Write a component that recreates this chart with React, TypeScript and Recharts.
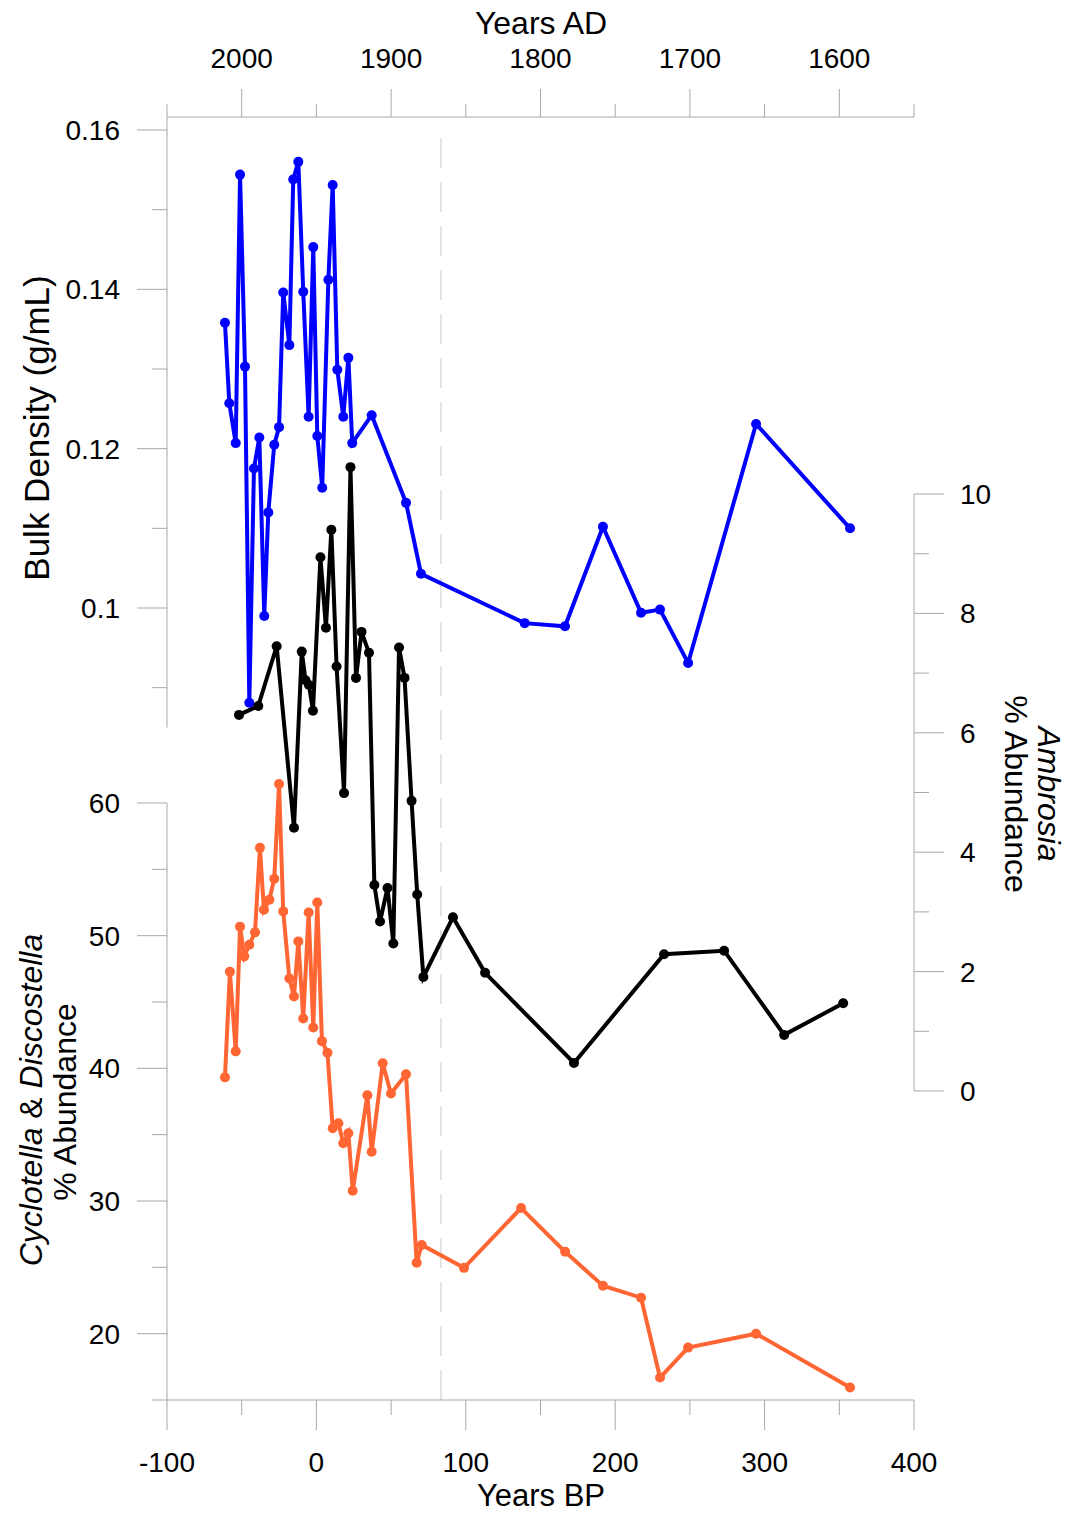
import { LineChart, Line, XAxis, YAxis, ReferenceLine } from "recharts";

// Years BP for each series
const bulkYearsBP = [
  -61.2, -58.3, -54.0, -51.1, -47.8, -44.9, -41.8, -38.2, -34.9, -32.2, -28.2, -25.0, -22.2,
  -18.1, -15.5, -12.1, -8.8, -5.2, -2.1, 0.6, 3.9, 8.0, 10.9, 14.0, 18.0, 21.4, 24.0, 37.0,
  60.0, 70.0, 139.4, 166.4, 191.8, 217.3, 230.0, 248.8, 294.3, 357.2,
];
const bulkDensity = [
  0.1358, 0.1257, 0.1207, 0.1544, 0.1303, 0.0881, 0.1175, 0.1214, 0.099, 0.112, 0.1205, 0.1227,
  0.1396, 0.133, 0.1538, 0.156, 0.1397, 0.124, 0.1453, 0.1216, 0.1151, 0.1412, 0.1531, 0.1299,
  0.124, 0.1314, 0.1207, 0.1242, 0.1132, 0.1043, 0.0981, 0.0977, 0.1102, 0.0994, 0.0998, 0.0931,
  0.1231, 0.11,
];

const ambrosiaYearsBP = [
  -51.8, -38.9, -26.6, -15.0, -9.8, -7.3, -5.0, -2.3, 2.7, 6.4, 10.0, 13.5, 18.5, 22.8, 26.5,
  30.2, 35.2, 38.8, 42.6, 47.6, 51.5, 55.3, 59.0, 63.7, 67.5, 71.6, 91.4, 112.9, 172.4, 232.7,
  272.9, 313.1, 352.6,
];
const ambrosiaPct = [
  6.3, 6.45, 7.45, 4.41, 7.36, 6.88, 6.8, 6.37, 8.94, 7.76, 9.4, 7.11, 4.99, 10.45, 6.92, 7.69,
  7.34, 3.45, 2.84, 3.4, 2.47, 7.43, 6.92, 4.86, 3.29, 1.91, 2.91, 1.98, 0.47, 2.29, 2.35, 0.94,
  1.47,
];

const cycloYearsBP = [
  -61.2, -57.9, -54.0, -51.1, -48.3, -44.9, -41.1, -37.8, -35.1, -31.5, -28.2, -25.0, -22.2,
  -18.1, -15.0, -12.1, -8.8, -5.2, -2.1, 0.6, 3.7, 7.4, 10.9, 14.7, 18.0, 21.4, 24.3, 34.1, 37.0,
  44.4, 49.9, 60.0, 67.1, 70.5, 98.8, 137.0, 166.5, 191.8, 217.3, 230.0, 248.8, 294.3, 357.2,
];
const cycloPct = [
  39.32, 47.29, 41.28, 50.68, 48.44, 49.32, 50.25, 56.62, 51.95, 52.71, 54.29, 61.43, 51.83, 46.77,
  45.41, 49.57, 43.76, 51.75, 43.08, 52.5, 42.05, 41.17, 35.49, 35.86, 34.36, 35.11, 30.77, 37.97,
  33.71, 40.38, 38.1, 39.55, 25.34, 26.69, 24.96, 29.47, 26.17, 23.61, 22.71, 16.69, 18.95, 20.0,
  15.94,
];

// tick values
const bpMajorTicks = [-100, 0, 100, 200, 300, 400];
const bpMinorTicks = [-50, 50, 150, 250, 350];
const adMajorTicks = [2000, 1900, 1800, 1700, 1600];
const adMinorTicks = [2050, 1950, 1850, 1750, 1650, 1550];
const bdMajorTicks = [0.16, 0.14, 0.12, 0.1];
const bdMinorTicks = [0.15, 0.13, 0.11, 0.09];
const cycMajorTicks = [60, 50, 40, 30, 20];
const cycMinorTicks = [55, 45, 35, 25, 15];
const ambMajorTicks = [0, 2, 4, 6, 8, 10];
const ambMinorTicks = [1, 3, 5, 7, 9];

const bulkData = bulkYearsBP.map((bp, i) => ({ bp, v: bulkDensity[i] }));
const ambrosiaData = ambrosiaYearsBP.map((bp, i) => ({ bp, v: ambrosiaPct[i] }));
const cycloData = cycloYearsBP.map((bp, i) => ({ bp, v: cycloPct[i] }));

const W = 1084;
const H = 1513;
const PLOT_L = 167;
const PLOT_R = 914;
const PLOT_T = 117;
const PLOT_B = 1400;

const BD_DOMAIN = [0.000586, 0.161632];
const AMB_DOMAIN = [-5.176, 16.315];
const CYC_DOMAIN = [15, 111.71];

const FONT = "'Liberation Sans', Arial, Helvetica, sans-serif";
const AXIS = "#a8a8a8";
const BLUE = "#0000ff";
const BLACK = "#000000";
const ORANGE = "#ff6633";

const fmtBd = (v: number) => String(Number(v.toFixed(2)));

function leftTick(majors: number[], fmt: (v: number) => string) {
  return (props: any) => {
    const { y, payload } = props;
    const major = majors.includes(payload.value);
    const len = major ? 30 : 15;
    return (
      <g>
        <line x1={PLOT_L - len} x2={PLOT_L} y1={y} y2={y} stroke={AXIS} strokeWidth={1} />
        {major && (
          <text x={PLOT_L - 47} y={y + 10} textAnchor="end" fontSize={28} fontFamily={FONT} fill="#000">
            {fmt(payload.value)}
          </text>
        )}
      </g>
    );
  };
}

function rightTick(props: any) {
  const { y, payload } = props;
  const major = ambMajorTicks.includes(payload.value);
  const len = major ? 30 : 15;
  return (
    <g>
      <line x1={PLOT_R} x2={PLOT_R + len} y1={y} y2={y} stroke={AXIS} strokeWidth={1} />
      {major && (
        <text x={960} y={y + 10} textAnchor="start" fontSize={28} fontFamily={FONT} fill="#000">
          {payload.value}
        </text>
      )}
    </g>
  );
}

function bottomTick(props: any) {
  const { x, payload } = props;
  const major = bpMajorTicks.includes(payload.value);
  const len = major ? 30 : 15;
  return (
    <g>
      <line x1={x} x2={x} y1={PLOT_B} y2={PLOT_B + len} stroke={AXIS} strokeWidth={1} />
      {major && (
        <text x={x} y={1472} textAnchor="middle" fontSize={28} fontFamily={FONT} fill="#000">
          {payload.value}
        </text>
      )}
    </g>
  );
}

function topTick(props: any) {
  const { x, payload } = props;
  const ad = 1950 - payload.value;
  const major = adMajorTicks.includes(ad);
  const len = major ? 28 : 13;
  return (
    <g>
      <line x1={x} x2={x} y1={PLOT_T - len} y2={PLOT_T} stroke={AXIS} strokeWidth={1} />
      {major && (
        <text x={x} y={68} textAnchor="middle" fontSize={28} fontFamily={FONT} fill="#000">
          {ad}
        </text>
      )}
    </g>
  );
}

export default function App() {
  return (
    <div style={{ position: "absolute", left: 0, top: 0, width: W, height: H, background: "#fff" }}>
      <LineChart
        width={W}
        height={H}
        margin={{ top: PLOT_T - 60, bottom: H - PLOT_B - 60, left: PLOT_L - 120, right: W - PLOT_R - 60 }}
      >
        <XAxis
          xAxisId="bp"
          dataKey="bp"
          type="number"
          domain={[-100, 400]}
          allowDataOverflow
          ticks={[...bpMajorTicks, ...bpMinorTicks]}
          interval={0}
          height={60}
          tickLine={false}
          axisLine={{ stroke: AXIS }}
          tick={bottomTick}
        />
        <XAxis
          xAxisId="top"
          orientation="top"
          dataKey="bp"
          type="number"
          domain={[-100, 400]}
          allowDataOverflow
          ticks={[...adMajorTicks, ...adMinorTicks].map((a) => 1950 - a)}
          interval={0}
          height={60}
          tickLine={false}
          axisLine={{ stroke: AXIS }}
          tick={topTick}
        />
        <YAxis
          yAxisId="bd"
          type="number"
          domain={BD_DOMAIN}
          allowDataOverflow
          ticks={[...bdMajorTicks, ...bdMinorTicks]}
          interval={0}
          width={60}
          tickLine={false}
          axisLine={false}
          tick={leftTick(bdMajorTicks, fmtBd)}
        />
        <YAxis
          yAxisId="cyc"
          type="number"
          domain={CYC_DOMAIN}
          allowDataOverflow
          ticks={[...cycMajorTicks, ...cycMinorTicks]}
          interval={0}
          width={60}
          tickLine={false}
          axisLine={false}
          tick={leftTick(cycMajorTicks, (v) => String(v))}
        />
        <YAxis
          yAxisId="amb"
          orientation="right"
          type="number"
          domain={AMB_DOMAIN}
          allowDataOverflow
          ticks={[...ambMajorTicks, ...ambMinorTicks]}
          interval={0}
          width={60}
          tickLine={false}
          axisLine={false}
          tick={rightTick}
        />

        <ReferenceLine
          xAxisId="bp"
          yAxisId="bd"
          ifOverflow="visible"
          segment={[{ x: -100, y: 0.085 }, { x: -100, y: BD_DOMAIN[1] }]}
          stroke={AXIS}
        />
        <ReferenceLine
          xAxisId="bp"
          yAxisId="cyc"
          ifOverflow="visible"
          segment={[{ x: -100, y: CYC_DOMAIN[0] }, { x: -100, y: 60 }]}
          stroke={AXIS}
        />
        <ReferenceLine
          xAxisId="bp"
          yAxisId="amb"
          ifOverflow="visible"
          segment={[{ x: 400, y: 0 }, { x: 400, y: 10 }]}
          stroke={AXIS}
        />
        <ReferenceLine
          xAxisId="bp"
          yAxisId="bd"
          ifOverflow="visible"
          segment={[{ x: 83.4, y: BD_DOMAIN[0] }, { x: 83.4, y: 0.16 }]}
          stroke="#c8c8c8"
          strokeDasharray="30 14"
        />

        <Line
          data={bulkData}
          xAxisId="bp"
          yAxisId="bd"
          dataKey="v"
          stroke={BLUE}
          strokeWidth={4}
          dot={{ r: 5, fill: BLUE, stroke: "none" }}
          isAnimationActive={false}
        />
        <Line
          data={ambrosiaData}
          xAxisId="bp"
          yAxisId="amb"
          dataKey="v"
          stroke={BLACK}
          strokeWidth={4}
          dot={{ r: 5, fill: BLACK, stroke: "none" }}
          isAnimationActive={false}
        />
        <Line
          data={cycloData}
          xAxisId="bp"
          yAxisId="cyc"
          dataKey="v"
          stroke={ORANGE}
          strokeWidth={4}
          dot={{ r: 5, fill: ORANGE, stroke: "none" }}
          isAnimationActive={false}
        />
      </LineChart>

      <svg
        width={W}
        height={H}
        style={{ position: "absolute", left: 0, top: 0, pointerEvents: "none" }}
        fontFamily={FONT}
      >
        <text x={541} y={34} textAnchor="middle" fontSize={32}>Years AD</text>
        <text x={541} y={1506} textAnchor="middle" fontSize={31}>Years BP</text>
        <text x={49} y={428} textAnchor="middle" fontSize={35} transform="rotate(-90 49 428)">
          Bulk Density (g/mL)
        </text>
        <text x={42} y={1100} textAnchor="middle" fontSize={32} transform="rotate(-90 42 1100)">
          <tspan fontStyle="italic">Cyclotella</tspan> &amp; <tspan fontStyle="italic">Discostella</tspan>
        </text>
        <text x={76} y={1102} textAnchor="middle" fontSize={32} transform="rotate(-90 76 1102)">
          % Abundance
        </text>
        <text x={1038} y={794} textAnchor="middle" fontSize={32} transform="rotate(90 1038 794)">
          <tspan fontStyle="italic">Ambrosia</tspan>
        </text>
        <text x={1005} y={794} textAnchor="middle" fontSize={32} transform="rotate(90 1005 794)">
          % Abundance
        </text>
      </svg>
    </div>
  );
}
